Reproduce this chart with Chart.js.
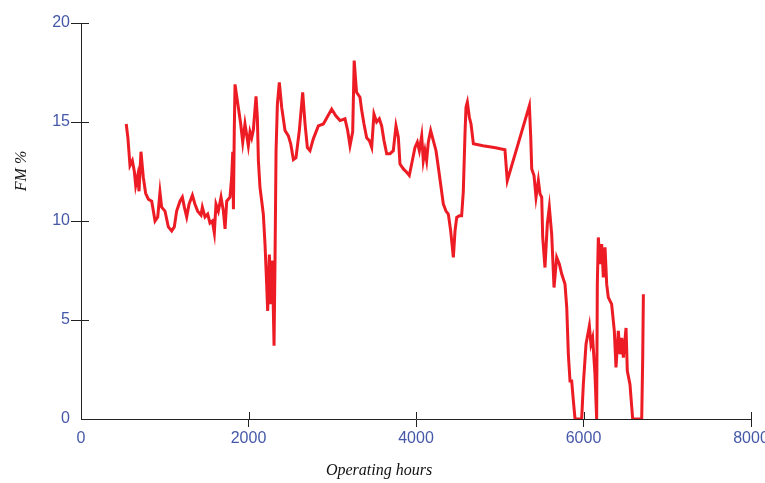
<!DOCTYPE html>
<html>
<head>
<meta charset="utf-8">
<script src="https://cdn.jsdelivr.net/npm/chart.js@4"></script>
<style>
  html, body { margin: 0; padding: 0; background: #fff; overflow: hidden; }
  #wrap { width: 780px; height: 483px; }
</style>
</head>
<body>
<div id="wrap"><canvas id="myChart" width="780" height="483"></canvas></div>
<script>
// operating hours (x) and FM % (y)
const hours = [
  540, 560, 585, 613, 637, 653, 677, 693, 716, 744, 772, 804, 844, 864, 884, 916, 943, 963,
  1003, 1043, 1083, 1114, 1142, 1182, 1210, 1234, 1262, 1290, 1330, 1361, 1393, 1433, 1449,
  1481, 1513, 1540, 1568, 1592, 1612, 1640, 1672, 1700, 1720, 1740, 1779, 1799, 1812, 1820,
  1830, 1839, 1878, 1907, 1931, 1958, 1998, 2018, 2038, 2058, 2090, 2106, 2118, 2137, 2158,
  2177, 2197, 2217, 2229, 2249, 2265, 2285, 2305, 2317, 2329, 2345, 2368, 2396, 2436, 2476,
  2504, 2536, 2567, 2607, 2647, 2675, 2703, 2734, 2774, 2834, 2894, 2934, 2993, 3045, 3093,
  3152, 3184, 3212, 3244, 3262, 3290, 3331, 3351, 3379, 3411, 3443, 3471, 3498, 3530, 3562,
  3590, 3618, 3650, 3690, 3729, 3761, 3789, 3809, 3849, 3889, 3920, 3948, 3988, 4016, 4040,
  4068, 4087, 4107, 4127, 4147, 4175, 4207, 4239, 4267, 4294, 4326, 4358, 4386, 4414, 4446,
  4466, 4486, 4517, 4545, 4565, 4585, 4597, 4613, 4637, 4657, 4685, 4800, 4950, 5062, 5090,
  5354, 5370, 5382, 5409, 5433, 5461, 5481, 5501, 5513, 5540, 5568, 5592, 5620, 5648, 5680,
  5712, 5740, 5779, 5800, 5819, 5839, 5859, 5879, 5899, 5978, 5998, 6030, 6070, 6089, 6109,
  6137, 6157, 6165, 6177, 6197, 6217, 6237, 6257, 6277, 6296, 6336, 6368, 6388, 6416, 6436,
  6456, 6476, 6508, 6523, 6555, 6587, 6695, 6707, 6715
];
const fm = [
  14.9, 14.2, 12.8, 13.05, 12.5, 11.8, 12.3, 11.5, 13.5, 12.2, 11.4, 11.1, 11.0, 10.5, 10.0, 10.2, 11.45, 10.7,
  10.5, 9.7, 9.5, 9.7, 10.5, 11.0, 11.2, 10.7, 10.2, 10.85, 11.3, 10.85, 10.5, 10.3, 10.7,
  10.2, 10.35, 9.9, 10.0, 9.4, 10.85, 10.5, 11.2, 10.5, 9.6, 11.0, 11.2, 12.2, 13.5, 10.6,
  14.5, 16.9, 15.75, 14.9, 13.98, 14.9, 13.8, 14.5, 14.2, 14.6, 16.3, 15.2, 13.05, 11.7, 11.0,
  10.35, 8.84, 6.8, 5.46, 8.3, 5.8, 8.0, 3.7, 8.16, 13.55, 15.9, 17.0, 15.75, 14.57, 14.3,
  13.9, 13.1, 13.2, 14.57, 16.5, 14.9, 13.7, 13.55, 14.15, 14.8, 14.9, 15.2, 15.65, 15.3, 15.07,
  15.16, 14.57, 13.8, 14.5, 18.1, 16.5, 16.25, 15.6, 14.9, 14.2, 14.06, 13.72, 15.4, 15.0, 15.16,
  14.8, 14.06, 13.4, 13.4, 13.55, 14.8, 14.23, 12.88, 12.63, 12.46, 12.3, 12.88, 13.72, 13.98, 13.55,
  14.3, 13.05, 13.55, 13.05, 13.98, 14.57, 14.06, 13.55, 12.7, 11.87, 10.86, 10.5, 10.35, 9.5, 8.16,
  9.5, 10.18, 10.26, 10.26, 11.5, 14.4, 15.75, 16.0, 15.24, 14.9, 13.9, 13.8, 13.7, 13.6, 12.04,
  15.83, 14.23, 12.63, 12.3, 11.2, 12.04, 11.37, 11.2, 9.17, 7.65, 9.85, 10.7, 9.34, 6.64, 8.16,
  7.82, 7.32, 6.81, 5.63, 3.27, 1.92, 1.92, 0.91, 0, 0, 1.75, 3.78, 4.7, 3.78, 4.1,
  2.26, 0, 6.8, 9.17, 7.82, 8.84, 7.15, 8.67, 6.81, 6.14, 5.8, 4.45, 2.6, 4.45, 3.27,
  4.1, 3.1, 4.6, 2.43, 1.75, 0, 0, 3.1, 6.3
];

const xTicks = [0, 2000, 4000, 6000, 8000];
const yTicks = [0, 5, 10, 15, 20];

const axisColor = '#222';
const labelColor = '#4558a8';
const tickFont = { family: '"Liberation Sans Narrow", "Liberation Sans"', size: 16 };
const titleFont = 'italic 16px "Liberation Serif"';

// tick marks cross the axis line: draw the part inside the plot area, plus the axis titles
const innerTicks = {
  id: 'innerTicks',
  afterDraw(chart) {
    const ctx = chart.ctx;
    const x = chart.scales.x, y = chart.scales.y;
    ctx.save();
    ctx.strokeStyle = axisColor;
    ctx.lineWidth = 1;
    ctx.beginPath();
    xTicks.forEach(v => {
      if (v === 0) return;
      const px = Math.round(x.getPixelForValue(v)) + 0.5;
      ctx.moveTo(px, y.bottom);
      ctx.lineTo(px, y.bottom - 7);
    });
    yTicks.forEach(v => {
      if (v === 0) return;
      const py = Math.round(y.getPixelForValue(v)) + 0.5;
      ctx.moveTo(x.left, py);
      ctx.lineTo(x.left + 8, py);
    });
    ctx.stroke();

    ctx.fillStyle = '#111';
    ctx.font = titleFont;
    ctx.textAlign = 'center';
    ctx.textBaseline = 'middle';
    ctx.fillText('Operating hours', 379, 471);
    ctx.translate(22, 171);
    ctx.rotate(-Math.PI / 2);
    ctx.fillText('FM %', 0, 0);
    ctx.restore();
  }
};

const ctx = document.getElementById('myChart').getContext('2d');

const chart = new Chart(ctx, {
  type: 'line',
  data: {
    datasets: [{
      label: 'FM %',
      data: hours.map((h, i) => ({ x: h, y: fm[i] })),
      borderColor: 'rgb(237,28,36)',
      backgroundColor: 'rgb(237,28,36)',
      borderWidth: 3,
      pointRadius: 0,
      tension: 0,
      fill: false,
    }]
  },
  options: {
    responsive: false,
    animation: false,
    layout: { padding: { top: 23, right: 29, bottom: 0, left: 0 } },
    plugins: {
      legend: { display: false },
      tooltip: { enabled: false },
    },
    scales: {
      x: {
        type: 'linear',
        min: 0,
        max: 8000,
        afterBuildTicks: scale => { scale.ticks = xTicks.map(v => ({ value: v })); },
        afterFit: scale => { scale.height = 64; },
        border: { display: true, color: axisColor, width: 1 },
        grid: {
          drawOnChartArea: false,
          tickLength: 8,
          color: c => (c.tick && c.tick.value === 0 ? 'rgba(0,0,0,0)' : axisColor),
        },
        ticks: { color: labelColor, font: tickFont, padding: 2, maxRotation: 0, callback: v => String(v) },
      },
      y: {
        min: 0,
        max: 20,
        afterBuildTicks: scale => { scale.ticks = yTicks.map(v => ({ value: v })); },
        afterFit: scale => { scale.width = 81; },
        border: { display: true, color: axisColor, width: 1 },
        grid: {
          drawOnChartArea: false,
          tickLength: 10,
          color: c => (c.tick && c.tick.value === 0 ? 'rgba(0,0,0,0)' : axisColor),
        },
        ticks: { color: labelColor, font: tickFont, padding: 1, callback: v => String(v) },
      }
    }
  },
  plugins: [innerTicks]
});
</script>
</body>
</html>
